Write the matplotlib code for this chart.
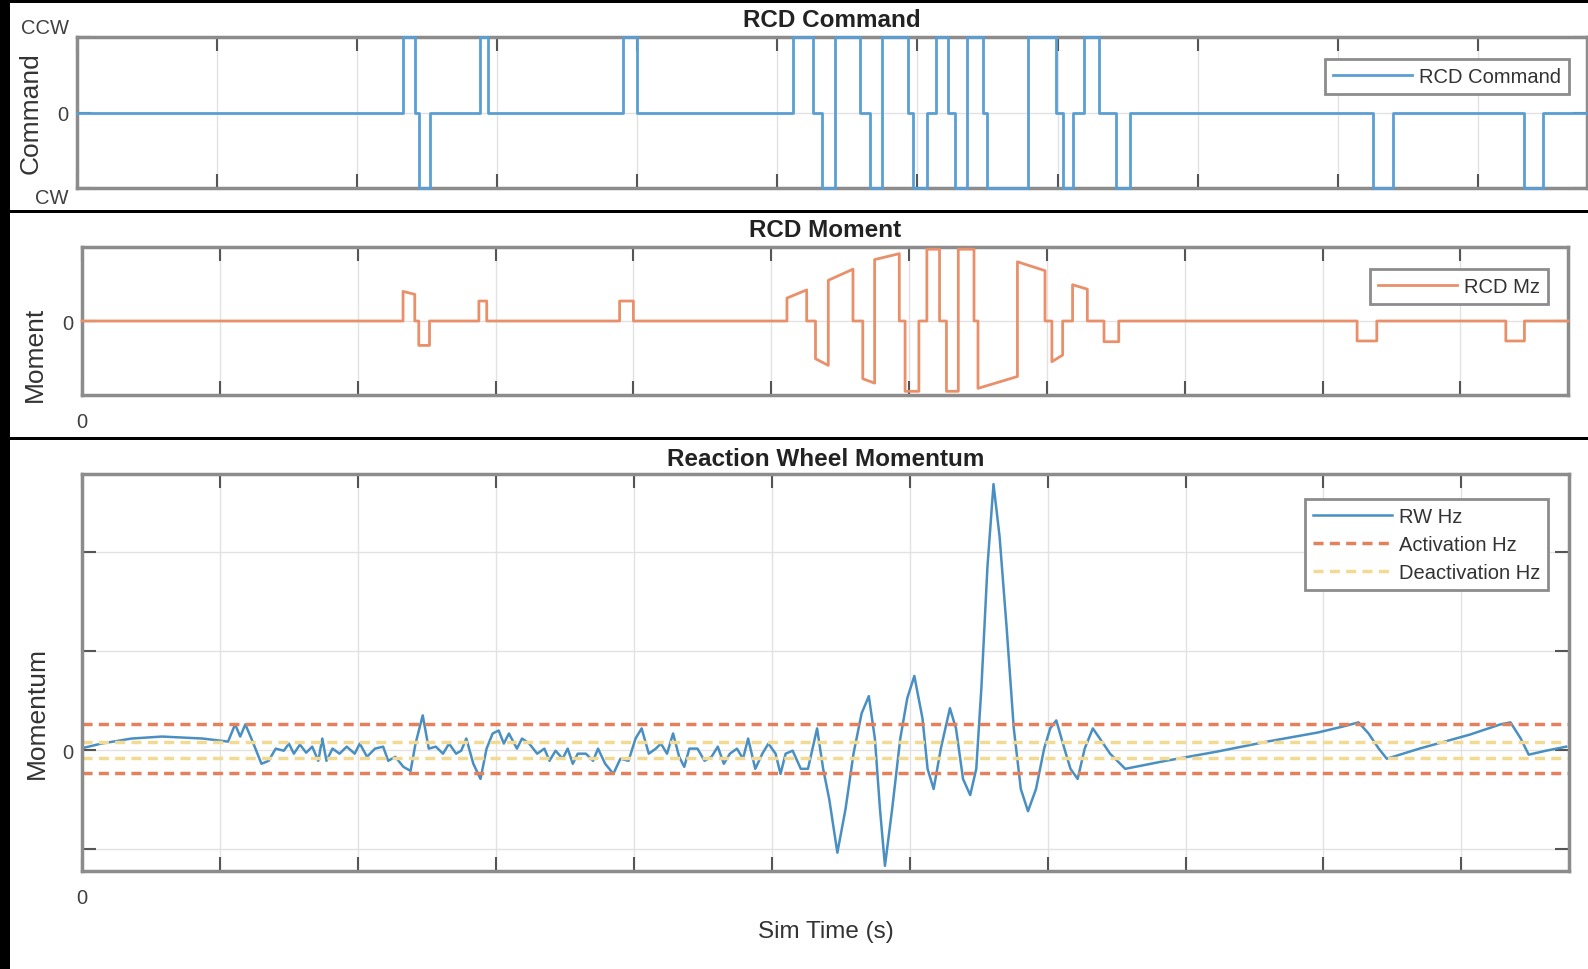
#importing libraries
import matplotlib
matplotlib.use("Agg")
import matplotlib.pyplot as plt
from matplotlib.patches import Rectangle

plt.rcParams['font.family'] = ['Liberation Sans', 'DejaVu Sans']

#canvas size in pixels
W, H = 1588, 970
T_END = 10.78  # end of the sim time axis

#RCD command: switch times and the level held after each switch (1 = CCW, -1 = CW)
cmd_t = [0.0, 2.329, 2.414, 2.443, 2.521, 2.879, 2.936, 3.900, 4.000,
         5.114, 5.257, 5.321, 5.414, 5.593, 5.664, 5.750, 5.929, 5.971,
         6.071, 6.129, 6.221, 6.271, 6.357, 6.471, 6.500, 6.786, 6.986,
         7.036, 7.114, 7.186, 7.293, 7.414, 7.521, 9.250, 9.393, 10.329, 10.464]
cmd_level = [0, 1, 0, -1, 0, 1, 0, 1, 0,
             1, 0, -1, 1, 0, -1, 1, 0, -1,
             0, 1, 0, -1, 1, 0, -1, 1, 0,
             -1, 0, 1, 0, -1, 0, -1, 0, -1, 0]

#RCD moment pulses: start, end, value at start, value at end
mom_start = [2.329, 2.443, 2.879, 3.900, 5.114, 5.321, 5.414, 5.664, 5.750, 5.971,
             6.129, 6.271, 6.357, 6.500, 6.786, 7.036, 7.186, 7.414, 9.250, 10.329]
mom_end = [2.414, 2.521, 2.936, 4.000, 5.257, 5.414, 5.593, 5.750, 5.929, 6.071,
           6.221, 6.357, 6.471, 6.786, 6.986, 7.114, 7.293, 7.521, 9.393, 10.464]
mom_v0 = [0.40, -0.33, 0.27, 0.27, 0.31, -0.51, 0.55, -0.78, 0.83, -0.95,
          0.97, -0.95, 0.97, -0.91, 0.80, -0.55, 0.49, -0.28, -0.27, -0.27]
mom_v1 = [0.36, -0.33, 0.27, 0.27, 0.42, -0.60, 0.70, -0.84, 0.91, -0.95,
          0.97, -0.95, 0.97, -0.75, 0.68, -0.46, 0.43, -0.28, -0.27, -0.27]

#reaction wheel momentum samples
rw_t = [0.0, 0.14, 0.36, 0.58, 0.875, 1.059, 1.11, 1.147, 1.184, 1.228,
        1.301, 1.353, 1.404, 1.463, 1.5, 1.536, 1.58, 1.625, 1.669, 1.713,
        1.742, 1.772, 1.816, 1.867, 1.919, 1.977, 2.014, 2.066, 2.124, 2.183,
        2.22, 2.271, 2.33, 2.382, 2.418, 2.47, 2.514, 2.565, 2.617, 2.661,
        2.712, 2.749, 2.786, 2.837, 2.889, 2.933, 2.977, 3.021, 3.058, 3.095,
        3.153, 3.19, 3.242, 3.3, 3.352, 3.389, 3.433, 3.484, 3.521, 3.558,
        3.594, 3.653, 3.705, 3.741, 3.793, 3.852, 3.903, 3.962, 4.013, 4.057,
        4.109, 4.16, 4.197, 4.241, 4.285, 4.329, 4.366, 4.403, 4.462, 4.513,
        4.564, 4.609, 4.653, 4.697, 4.748, 4.792, 4.829, 4.881, 4.932, 4.976,
        5.028, 5.064, 5.101, 5.152, 5.211, 5.263, 5.329, 5.373, 5.417, 5.476,
        5.535, 5.593, 5.652, 5.704, 5.748, 5.785, 5.821, 5.873, 5.932, 5.983,
        6.034, 6.093, 6.13, 6.174, 6.226, 6.292, 6.336, 6.387, 6.439, 6.483,
        6.52, 6.564, 6.608, 6.652, 6.703, 6.755, 6.806, 6.858, 6.916, 6.975,
        7.019, 7.063, 7.122, 7.166, 7.218, 7.269, 7.328, 7.379, 7.453, 7.563,
        7.857, 8.225, 8.592, 8.96, 9.143, 9.254, 9.327, 9.401, 9.459, 9.695,
        10.062, 10.283, 10.356, 10.43, 10.488, 10.613, 10.76]
rw_v = [0.02, 0.067, 0.118, 0.138, 0.118, 0.087, 0.261, 0.138, 0.261, 0.118,
        -0.137, -0.107, 0.016, -0.005, 0.067, -0.035, 0.057, -0.025, 0.036, -0.107,
        0.118, -0.107, 0.016, -0.035, 0.036, -0.035, 0.067, -0.066, 0.016, 0.036,
        -0.107, -0.066, -0.168, -0.209, 0.067, 0.352, 0.016, 0.036, -0.035, 0.067,
        -0.035, -0.005, 0.118, -0.137, -0.29, 0.016, 0.169, 0.199, 0.067, 0.169,
        0.016, 0.118, 0.067, -0.035, 0.016, -0.107, -0.005, -0.086, 0.016, -0.137,
        -0.035, -0.035, -0.107, 0.016, -0.137, -0.239, -0.086, -0.107, 0.118, 0.22,
        -0.035, 0.016, 0.067, -0.035, 0.169, -0.066, -0.168, 0.016, 0.016, -0.107,
        -0.066, 0.036, -0.137, -0.035, 0.016, -0.086, 0.118, -0.188, -0.035, 0.067,
        -0.035, -0.239, -0.035, -0.005, -0.188, -0.188, 0.22, -0.188, -0.494, -1.035,
        -0.596, -0.035, 0.373, 0.546, 0.118, -0.596, -1.168, -0.596, 0.118, 0.526,
        0.75, 0.322, -0.188, -0.392, 0.016, 0.424, 0.22, -0.29, -0.453, -0.188,
        0.628, 1.852, 2.688, 2.158, 1.24, 0.22, -0.392, -0.616, -0.392, 0.016,
        0.22, 0.301, 0.016, -0.188, -0.29, 0.016, 0.22, 0.118, -0.035, -0.188,
        -0.107, -0.015, 0.087, 0.179, 0.24, 0.281, 0.169, 0.016, -0.086, 0.016,
        0.158, 0.261, 0.281, 0.118, -0.045, -0.005, 0.036]

#thresholds
activation = [0.26, -0.23]
deactivation = [0.08, -0.08]

#colours
C_CMD = '#5A9FD4'
C_MOM = '#E9906A'
C_RW = '#4A8FC2'
C_ACT = '#E4805C'
C_DEACT = '#F3DA94'
C_FRAME = '#8c8c8c'
C_TEXT = '#333333'


def addAxes(fig, left, top, right, bottom):
    #pixel box -> figure fraction
    return fig.add_axes([left / W, 1 - bottom / H, (right - left) / W, (bottom - top) / H])


def styleAxes(ax):
    for s in ax.spines.values():
        s.set_color(C_FRAME)
        s.set_linewidth(2.5)
    ax.set_xlim(0, T_END)
    ax.set_xticks(range(0, 11))
    ax.tick_params(direction='in', length=10, width=1.5, color='#555555',
                   top=True, right=True, labelsize=14.5, labelcolor='#404040')
    ax.tick_params(axis='x', pad=12)
    ax.tick_params(axis='y', pad=6)
    ax.grid(True, color='#e2e2e2', linewidth=1)
    ax.set_axisbelow(True)


def addLegend(ax, dx, dy, spacing=0.2):
    leg = ax.legend(loc='upper right', bbox_to_anchor=(1 - dx, 1 - dy), borderaxespad=0,
                    fontsize=14.5, handlelength=3.9, handletextpad=0.35, borderpad=0.4,
                    labelspacing=spacing, fancybox=False, framealpha=1, edgecolor=C_FRAME)
    leg.get_frame().set_linewidth(2)
    for t in leg.get_texts():
        t.set_color(C_TEXT)
    return leg


fig = plt.figure(figsize=(W / 100, H / 100), dpi=100)
fig.patch.set_facecolor('black')

#white panels with black separators
for top, bottom in [(4, 211), (214, 438), (441, 970)]:
    fig.patches.append(Rectangle((10 / W, 1 - bottom / H), 1 - 10 / W, (bottom - top) / H,
                                 transform=fig.transFigure, facecolor='white',
                                 edgecolor='none', zorder=-1))

#RCD command
ax1 = addAxes(fig, 77, 38, 1587, 189)
styleAxes(ax1)
ax1.step(cmd_t + [T_END], cmd_level + [0], where='post', color=C_CMD, lw=2,
         label='RCD Command', zorder=3, clip_on=False)
ax1.set_ylim(-1, 1)
ax1.set_yticks([-1, 0, 1])
ax1.set_yticklabels(['CW', '0', 'CCW'])
labs = ax1.get_yticklabels()
labs[0].set_va('top')
labs[2].set_va('bottom')
ax1.set_xticklabels([])
ax1.set_title('RCD Command', fontsize=17.5, fontweight='bold', color='#222222', pad=8)
ax1.set_ylabel('Command', fontsize=19, color=C_TEXT, va='center')
ax1.yaxis.set_label_coords(-0.031, 0.5)
addLegend(ax1, 18 / 1510, 22 / 151)

#RCD moment
ax2 = addAxes(fig, 82, 248, 1568, 396)
styleAxes(ax2)
mx, my = [0.0], [0.0]
for s, e, a, b in zip(mom_start, mom_end, mom_v0, mom_v1):
    mx += [s, s, e, e]
    my += [0, a, b, 0]
mx.append(T_END)
my.append(0)
ax2.plot(mx, my, color=C_MOM, lw=2, label='RCD Mz', zorder=3, clip_on=False)
ax2.set_ylim(-1, 1)
ax2.set_yticks([0])
ax2.set_xticklabels(['0'] + [''] * 10)
ax2.set_title('RCD Moment', fontsize=17.5, fontweight='bold', color='#222222', pad=8)
ax2.set_ylabel('Moment', fontsize=19, color=C_TEXT, va='center')
ax2.yaxis.set_label_coords(-0.0316, 0.28)
addLegend(ax2, 20 / 1486, 22 / 148)

#reaction wheel momentum
ax3 = addAxes(fig, 82, 475, 1569, 872)
styleAxes(ax3)
ax3.plot(rw_t, rw_v, color=C_RW, lw=1.8, label='RW Hz')
for i, v in enumerate(activation):
    ax3.axhline(v, color=C_ACT, lw=2.5, linestyle=(0, (2.9, 1.8)),
                label='Activation Hz' if i == 0 else None)
for i, v in enumerate(deactivation):
    ax3.axhline(v, color=C_DEACT, lw=2.5, linestyle=(0, (2.9, 1.8)),
                label='Deactivation Hz' if i == 0 else None)
ax3.set_ylim(-1.22, 2.79)
ax3.set_yticks([-1, 0, 1, 2])
ax3.set_yticklabels(['', '0', '', ''])
ax3.set_xticklabels(['0'] + [''] * 10)
ax3.set_title('Reaction Wheel Momentum', fontsize=17.5, fontweight='bold', color='#222222', pad=6.5)
ax3.set_ylabel('Momentum', fontsize=19, color=C_TEXT, va='center')
ax3.yaxis.set_label_coords(-0.0306, 0.40)
ax3.set_xlabel('Sim Time (s)', fontsize=17.5, color=C_TEXT, va='center')
ax3.xaxis.set_label_coords(0.5, -0.151)
addLegend(ax3, 21 / 1487, 25 / 397, spacing=0.45)

fig.savefig('out.png', dpi=100, facecolor=fig.get_facecolor())
